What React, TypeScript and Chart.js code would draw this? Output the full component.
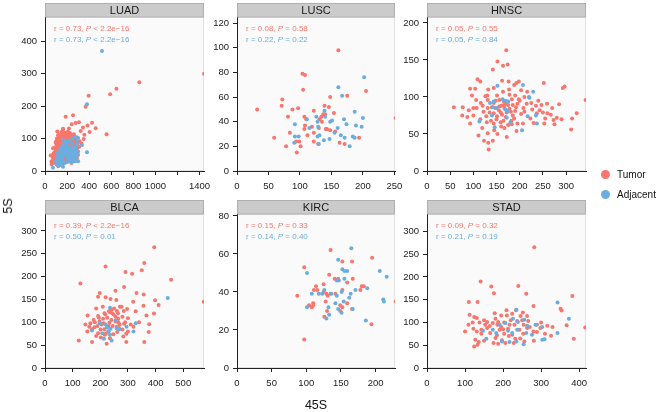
import React, { useEffect, useRef } from 'react';
import { Chart, registerables } from 'chart.js';
Chart.register(...registerables);

const RED = '#F8766D';
const BLUE = '#6AAEDF';
const FONT = '"Liberation Sans", Arial, Helvetica, sans-serif';

type P = [number, number];

// ---------- data (x = 45S, y = 5S) ----------
const luadTumor: P[] = [
  [1440,300],[854,274],[647,254],[590,237],[395,232],[368,198],[558,113],[459,132],[426,149],[385,140],[344,134],[323,123],[404,120],[356,112],[350,99],[314,92],[287,104],[308,150],[278,148],[254,172],[187,167],[242,144],[217,131],[163,128],[112,122],[211,111],[254,108],[127,107],[148,92],[199,95],[97,87],[248,84],[118,77],[169,75],[73,70],[224,69],[139,62],[88,56],[52,48],[254,62],[178,49],[103,41],[73,34],[124,29],[163,24],[58,29],[224,36],
  [100,60],[110,70],[120,85],[130,95],[140,100],[150,110],[160,115],[170,105],[180,98],[190,92],[200,100],[210,95],[220,105],[230,98],[240,90],[250,95],[260,88],[270,80],[280,78],[290,70],
  [105,50],[115,55],[125,65],[135,72],[145,80],[155,88],[165,92],[175,85],[185,80],[195,75],[205,82],[215,86],[225,78],[235,72],[245,68],[255,74],[265,66],[275,60],
  [90,40],[100,45],[112,38],[122,48],[132,52],[142,58],[152,62],[162,68],[172,72],[182,64],[192,58],[202,66],[212,70],[222,62],[232,56],[242,52],[252,58],[262,50],[272,46],[285,55],
  [80,30],[95,25],[108,30],[118,22],[128,35],[138,42],[148,45],[158,50],[168,55],[178,60],[188,45],[198,50],[208,55],[218,48],[228,42],[238,38],[248,45],[258,35],[268,40],
  [85,50],[95,65],[105,80],[115,95],[125,103],[135,112],[148,120],[163,130],[175,118],[185,110],[195,116],[207,121],[215,113],[226,117],[235,108],[245,112],[262,113],[275,100],[295,85],[300,60],
  [70,45],[78,55],[88,72],[98,90],[108,100],[118,110],[128,88],[138,80],[148,70],[158,78],[168,85],[178,92],[188,100],[198,106],[208,88],[218,80],[228,90],[238,82],[248,76],[258,82],[268,92],[280,88],[310,75],[330,85],[290,40],[300,50],
  [60,20],[70,25],[75,38],[120,15],[140,20],[160,30],[180,35],[200,28],[220,30],[240,25],[150,32],[170,40],[190,38],[210,42],[230,48],[250,40],[270,30]
];
const luadAdjacent: P[] = [
  [516,370],[380,206],[380,58],[335,80],[300,102],[290,90],[72,10],[163,13],[150,22],[130,18],
  [100,30],[110,40],[120,28],[130,45],[140,35],[150,50],[160,42],[170,60],[180,55],[190,48],[200,62],[210,52],[220,45],[230,58],[240,50],[250,40],[260,55],[270,48],[280,42],[290,60],
  [115,55],[125,60],[135,65],[145,70],[155,75],[165,80],[175,85],[185,72],[195,78],[205,70],[215,66],[225,75],[235,68],[245,62],[255,70],[265,65],[275,72],[285,80],[295,50],
  [105,20],[120,35],[140,25],[160,30],[180,25],[200,35],[220,30],[240,28],[260,30],[280,32],[165,95],[185,92],[205,90],[225,95],[245,85],[255,100],[270,105],[300,30],[160,60],[190,65],[210,40],[230,35],[250,45]
];
const luscTumor: P[] = [
  [161,98],[104,79],[108,78],[105,66],[205,65],[175,61],[148,60],[72,58],[71,53],[32,50],[88,50],[97,51],[81,44],[139,53],[146,52],[122,49],[137,46],[140,46],[134,44],[107,44],[110,42],[131,42],[154,47],[108,37],[107,34],[119,36],[130,35],[135,40],[141,34],[143,34],[148,33],[156,32],[84,31],[112,29],[122,31],[59,27],[99,24],[94,24],[122,24],[78,20],[101,20],[129,22],[95,15],[163,23],[171,22],[194,27],[252,43]
];
const luscAdjacent: P[] = [
  [202,76],[161,68],[167,61],[187,48],[139,49],[126,44],[140,44],[111,42],[151,41],[148,40],[170,42],[200,43],[92,38],[128,40],[129,36],[115,35],[155,31],[160,35],[174,38],[189,37],[198,36],[92,28],[91,23],[128,28],[131,29],[138,25],[147,26],[165,29],[171,27],[184,28],[187,27],[179,20],[130,22],[98,28]
];
const hnscTumor: P[] = [
  [171,163],[152,148],[174,144],[164,142],[142,137],[176,121],[109,124],[115,121],[162,122],[193,119],[198,121],[188,116],[252,119],[293,112],[297,114],[93,111],[104,111],[132,110],[144,112],[164,107],[177,110],[203,109],[216,107],[97,102],[126,101],[151,102],[178,103],[190,102],[183,97],[198,97],[210,100],[131,96],[156,96],[166,94],[106,96],[116,92],[144,92],[166,89],[175,89],[185,89],[195,91],[215,91],[247,89],[259,91],[58,86],[77,86],[107,85],[131,85],[147,85],[156,87],[167,85],[208,85],[227,83],[243,82],[342,96],[122,80],[144,78],[159,79],[181,80],[190,81],[203,77],[237,78],[250,79],[267,76],[280,72],[323,78],[76,75],[87,73],[100,75],[128,74],[151,74],[170,73],[188,71],[223,71],[255,71],[273,69],[313,71],[93,64],[129,66],[144,64],[159,66],[183,63],[207,64],[253,64],[275,63],[311,56],[119,58],[167,58],[193,54],[111,48],[131,51],[152,50],[172,46],[123,41],[142,41],[132,38],[133,29],
  [155,82],[162,76],[170,90],[178,84],[185,75],[150,70],[160,88],[172,79],[140,86],[135,79],[148,95],[192,86],[200,95],[210,80],[225,92],[235,88],[120,88],[115,70],[138,68],[165,68],[182,68],[195,64],[160,60],[145,55],[175,62],[230,65],[240,95],[260,78],[270,85],[285,90],[290,70],[220,100],[130,102],[100,85],[90,82]
];
const hnscAdjacent: P[] = [
  [152,115],[207,116],[229,107],[221,99],[136,92],[144,94],[163,97],[175,94],[142,86],[169,83],[174,81],[217,74],[235,75],[113,67],[180,66],[146,59],[205,55],[237,64],[150,85],[170,95],[140,75],[172,72]
];
const blcaTumor: P[] = [
  [395,264],[219,222],[128,185],[291,210],[315,206],[359,230],[350,214],[456,193],[286,177],[255,169],[198,164],[192,156],[219,155],[237,151],[258,149],[331,164],[357,161],[319,145],[297,129],[271,134],[277,134],[356,136],[398,148],[411,138],[394,119],[209,134],[185,130],[154,115],[192,114],[218,117],[235,122],[248,117],[280,112],[300,109],[328,124],[367,115],[231,124],[243,120],[264,120],[164,98],[197,102],[212,98],[233,99],[255,102],[286,97],[146,95],[179,89],[225,89],[268,87],[310,95],[377,96],[153,80],[192,76],[216,73],[261,79],[294,75],[375,79],[202,67],[235,65],[283,69],[122,60],[170,57],[223,53],[294,57],[359,57],[574,145],[176,105],[201,84],[247,74],[280,84],
  [210,108],[225,110],[240,105],[255,112],[265,100],[270,95],[190,92],[205,95],[215,85],[230,80],[245,92],[260,90],[180,100],[195,110],[240,128],[250,130],[260,125],[265,108],[285,125],[290,100],[300,80],[320,90],[340,100],[220,75],[185,70],[170,85],[160,90],[230,92],[215,120]
];
const blcaAdjacent: P[] = [
  [444,153],[235,132],[198,98],[219,95],[225,89],[237,86],[255,104],[259,87],[268,84],[170,82],[207,76],[229,80],[213,64],[241,60],[328,98],[295,90],[320,80],[235,73]
];
const kircTumor: P[] = [
  [135,62],[97,53],[152,56],[166,56],[195,58],[133,49],[141,47],[146,47],[167,47],[159,45],[114,43],[116,41],[125,44],[87,38],[111,41],[125,40],[129,39],[131,38],[135,39],[152,41],[142,39],[178,41],[180,43],[183,43],[104,33],[110,34],[108,32],[110,33],[128,35],[149,33],[152,32],[159,34],[130,30],[126,27],[149,30],[166,31],[194,23],[97,15],[229,35]
];
const kircAdjacent: P[] = [
  [165,63],[101,50],[146,57],[152,52],[155,51],[159,51],[144,46],[147,46],[155,47],[206,51],[216,48],[171,41],[164,39],[188,42],[108,39],[118,39],[123,39],[126,41],[136,39],[144,38],[151,40],[101,32],[132,32],[142,34],[154,35],[162,37],[146,31],[151,29],[167,31],[129,26],[133,28],[186,25],[211,36],[212,35]
];
const stadTumor: P[] = [
  [282,265],[141,190],[169,179],[176,164],[240,180],[382,158],[110,145],[133,145],[261,163],[280,136],[209,127],[234,127],[252,122],[351,130],[354,126],[112,117],[124,112],[131,110],[178,120],[195,115],[210,115],[224,119],[246,114],[263,114],[120,100],[138,100],[158,101],[173,99],[187,101],[203,100],[230,95],[254,95],[266,103],[289,95],[316,93],[367,94],[416,89],[100,80],[131,80],[143,84],[158,88],[191,84],[213,86],[243,84],[263,88],[298,88],[143,75],[166,77],[184,72],[203,75],[224,73],[253,75],[289,79],[326,71],[127,62],[136,57],[180,66],[197,61],[232,64],[256,58],[281,60],[386,64],[124,47],[133,51],[187,53],[206,55],[228,55],[109,95],[153,95],[217,95],[122,86],[237,103],
  [150,105],[165,92],[180,108],[195,90],[220,105],[250,105],[270,90],[280,80],[300,100],[310,75],[330,90],[215,70],[175,55],[150,60],[245,65],[185,95],[200,85]
];
const stadAdjacent: P[] = [
  [343,144],[373,108],[235,128],[226,108],[256,106],[191,95],[206,99],[239,101],[263,93],[285,95],[303,90],[173,84],[182,77],[213,82],[224,77],[237,84],[261,77],[276,73],[147,82],[156,64],[197,58],[217,57],[235,58],[254,52],[303,62],[309,63],[343,77]
];

const cancerTypes = ['LUAD', 'LUSC', 'HNSC', 'BLCA', 'KIRC', 'STAD'];
const tumorSeries = [luadTumor, luscTumor, hnscTumor, blcaTumor, kircTumor, stadTumor];
const adjacentSeries = [luadAdjacent, luscAdjacent, hnscAdjacent, blcaAdjacent, kircAdjacent, stadAdjacent];
const tumorR = ['0.73', '0.08', '0.05', '0.39', '0.15', '0.09'];
const tumorP = ['< 2.2e\u221216', '= 0.58', '= 0.55', '< 2.2e\u221216', '= 0.33', '= 0.32'];
const adjacentR = ['0.73', '0.22', '0.05', '0.50', '0.14', '0.21'];
const adjacentP = ['< 2.2e\u221216', '= 0.22', '= 0.84', '= 0.01', '= 0.40', '= 0.19'];
const xMaxes = [1440, 251, 343, 575, 228, 418];
const yMaxes = [475, 125, 208, 337, 81, 338];
const xTickValues = [
  [0, 200, 400, 600, 800, 1000, 1200, 1400],
  [0, 50, 100, 150, 200, 250],
  [0, 50, 100, 150, 200, 250, 300],
  [0, 100, 200, 300, 400, 500],
  [0, 50, 100, 150, 200],
  [0, 100, 200, 300, 400],
];
const yTickValues = [
  [0, 100, 200, 300, 400],
  [0, 20, 40, 60, 80, 100, 120],
  [0, 50, 100, 150, 200],
  [0, 50, 100, 150, 200, 250, 300],
  [0, 20, 40, 60, 80],
  [0, 50, 100, 150, 200, 250, 300],
];
const hiddenXLabels = [[1200], [], [], [], [], []];
const legendLabels = ['Tumor', 'Adjacent'];
const xTitle = '45S';
const yTitle = '5S';

// ---------- layout ----------
const colLeft = [45, 237, 427];
const colWidth = [159, 158, 159];
const rowTop = [17, 214];
const plotH = 154;
const Y_AXIS_W = 40;
const X_AXIS_H = 26;
const STRIP_H = 15;
const RIGHT_PAD = 14;

function drawStat(ctx: CanvasRenderingContext2D, x: number, y: number, r: string, p: string, color: string) {
  ctx.fillStyle = color;
  ctx.textBaseline = 'middle';
  ctx.textAlign = 'left';
  const normal = `8px ${FONT}`;
  const ital = `italic 8px ${FONT}`;
  const s1 = `r = ${r}, `;
  ctx.font = normal;
  ctx.fillText(s1, x, y);
  x += ctx.measureText(s1).width;
  ctx.font = ital;
  ctx.fillText('P', x, y);
  x += ctx.measureText('P').width;
  ctx.font = normal;
  ctx.fillText(' ' + p, x, y);
}

function Panel({ idx }: { idx: number }) {
  const ref = useRef<HTMLCanvasElement>(null);
  const col = idx % 3;
  const row = Math.floor(idx / 3);
  const w = colWidth[col];
  const cw = w + Y_AXIS_W + RIGHT_PAD;
  const ch = plotH + STRIP_H + X_AXIS_H;
  const left = colLeft[col] - Y_AXIS_W;
  const top = rowTop[row] - STRIP_H;

  useEffect(() => {
    const decor = {
      id: 'decor' + idx,
      beforeDraw(chart: any) {
        const { ctx, chartArea: a } = chart;
        ctx.save();
        ctx.fillStyle = '#FAFAFA';
        ctx.fillRect(a.left, a.top, a.right - a.left, a.bottom - a.top);
        ctx.strokeStyle = '#E2E2E2';
        ctx.lineWidth = 1;
        ctx.strokeRect(a.left + 0.5, a.top + 0.5, a.right - a.left - 1, a.bottom - a.top - 1);
        ctx.restore();
      },
      afterDraw(chart: any) {
        const { ctx, chartArea: a } = chart;
        ctx.save();
        ctx.fillStyle = '#CBCBCB';
        ctx.fillRect(a.left, a.top - 14, a.right - a.left, 14);
        ctx.strokeStyle = '#A8A8A8';
        ctx.lineWidth = 0.8;
        ctx.strokeRect(a.left + 0.4, a.top - 13.6, a.right - a.left - 0.8, 13.6);
        ctx.fillStyle = '#1A1A1A';
        ctx.font = `11px ${FONT}`;
        ctx.textAlign = 'center';
        ctx.textBaseline = 'middle';
        ctx.fillText(cancerTypes[idx], (a.left + a.right) / 2, a.top - 6.5);
        drawStat(ctx, a.left + 9, a.top + 11.5, tumorR[idx], tumorP[idx], RED);
        drawStat(ctx, a.left + 9, a.top + 22.5, adjacentR[idx], adjacentP[idx], BLUE);
        ctx.restore();
      },
    };

    const axisCommon = {
      grid: { drawOnChartArea: false, drawTicks: true, tickLength: 4, color: '#222', lineWidth: 1 },
      border: { display: true, color: '#222', width: 1 },
    };

    const chart = new Chart(ref.current!, {
      type: 'scatter',
      data: {
        datasets: [
          {
            label: legendLabels[1],
            data: adjacentSeries[idx].map(([x, y]) => ({ x, y })),
            backgroundColor: BLUE,
            borderWidth: 0,
            pointRadius: 2,
            order: 0,
          },
          {
            label: legendLabels[0],
            data: tumorSeries[idx].map(([x, y]) => ({ x, y })),
            backgroundColor: RED,
            borderWidth: 0,
            pointRadius: 2,
            order: 1,
          },
        ],
      },
      options: {
        responsive: false,
        maintainAspectRatio: false,
        animation: false,
        devicePixelRatio: 1,
        layout: { padding: { top: STRIP_H, right: RIGHT_PAD, left: 0, bottom: 0 } },
        plugins: { legend: { display: false }, tooltip: { enabled: false } },
        scales: {
          x: {
            type: 'linear',
            min: 0,
            max: xMaxes[idx],
            ...axisCommon,
            afterBuildTicks: (s: any) => {
              s.ticks = xTickValues[idx].map((v) => ({ value: v }));
            },
            afterFit: (s: any) => {
              s.height = X_AXIS_H;
              s.paddingLeft = 0;
              s.paddingRight = 0;
            },
            ticks: {
              autoSkip: false,
              maxRotation: 0,
              padding: 6,
              color: '#222',
              font: { family: FONT, size: 9.5 },
              callback: (v: any) => (hiddenXLabels[idx].includes(Number(v)) ? '' : String(v)),
            },
          },
          y: {
            type: 'linear',
            min: 0,
            max: yMaxes[idx],
            ...axisCommon,
            afterBuildTicks: (s: any) => {
              s.ticks = yTickValues[idx].map((v) => ({ value: v }));
            },
            afterFit: (s: any) => {
              s.width = Y_AXIS_W;
              s.paddingTop = 0;
              s.paddingBottom = 0;
            },
            ticks: {
              autoSkip: false,
              padding: 4,
              color: '#222',
              font: { family: FONT, size: 9.5 },
              callback: (v: any) => String(v),
            },
          },
        },
      } as any,
      plugins: [decor],
    });
    return () => chart.destroy();
  }, [idx]);

  return (
    <canvas
      ref={ref}
      width={cw}
      height={ch}
      style={{ position: 'absolute', left, top, width: cw, height: ch }}
    />
  );
}

export default function App() {
  return (
    <div
      style={{
        position: 'absolute',
        left: 0,
        top: 0,
        width: 657,
        height: 412,
        background: '#fff',
        fontFamily: FONT,
        overflow: 'hidden',
      }}
    >
      {cancerTypes.map((_, i) => (
        <Panel key={i} idx={i} />
      ))}
      <div
        style={{
          position: 'absolute',
          left: 8,
          top: 206,
          transform: 'translate(-50%, -50%) rotate(-90deg)',
          fontSize: 12.5,
          color: '#111',
          whiteSpace: 'nowrap',
        }}
      >
        {yTitle}
      </div>
      <div
        style={{
          position: 'absolute',
          left: 316,
          top: 405,
          transform: 'translate(-50%, -50%)',
          fontSize: 12.5,
          color: '#111',
          whiteSpace: 'nowrap',
        }}
      >
        {xTitle}
      </div>
      {legendLabels.map((lab, i) => (
        <div key={lab} style={{ position: 'absolute', left: 601, top: 174 + i * 20 - 6, height: 12, display: 'flex', alignItems: 'center' }}>
          <span
            style={{
              display: 'inline-block',
              width: 9,
              height: 9,
              borderRadius: '50%',
              background: i === 0 ? RED : BLUE,
              marginRight: 7,
            }}
          />
          <span style={{ fontSize: 10, color: '#111', whiteSpace: 'nowrap' }}>{lab}</span>
        </div>
      ))}
    </div>
  );
}
